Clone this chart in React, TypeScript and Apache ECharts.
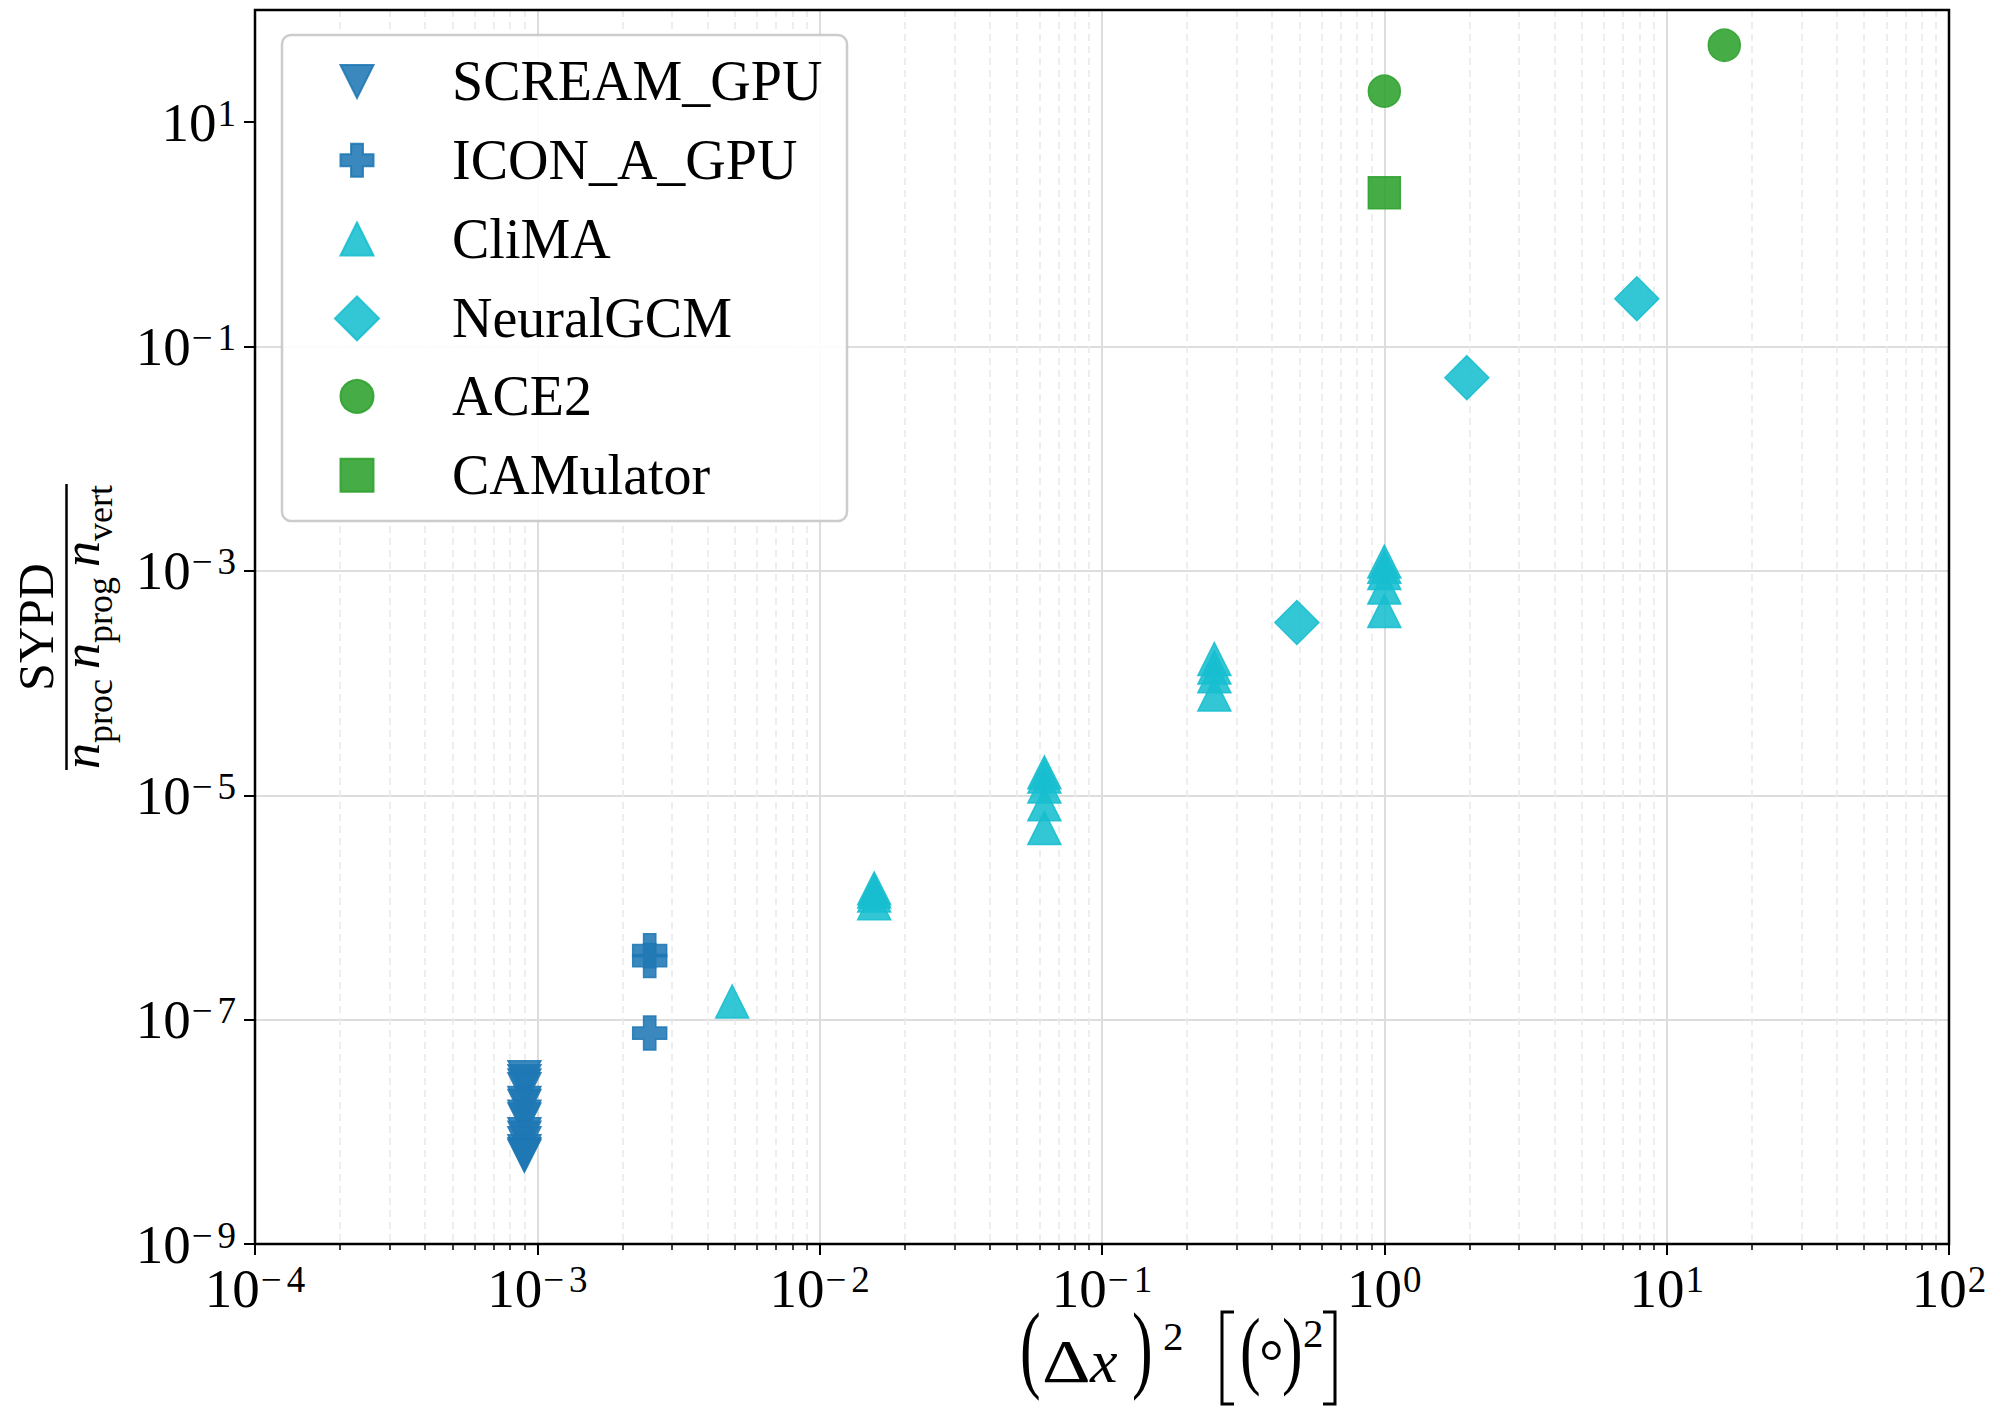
import React, { useEffect, useRef } from 'react';
import * as echarts from 'echarts';

const FONT = "'Liberation Serif', 'Times New Roman', serif";

// ---------- data ----------
const seriesNames = ['SCREAM_GPU', 'ICON_A_GPU', 'CliMA', 'NeuralGCM', 'ACE2', 'CAMulator'];

const screamX = [9e-4, 9e-4, 9e-4, 9e-4, 9e-4, 9e-4, 9e-4, 9e-4, 9e-4, 9e-4, 9e-4, 9e-4, 9e-4, 9e-4];
const screamY = [3.07e-8, 2.82e-8, 2.59e-8, 2.39e-8, 1.81e-8, 1.7e-8, 1.36e-8, 1.29e-8, 9.5e-9, 8.85e-9, 7.9e-9, 6.7e-9, 6.3e-9, 6.1e-9];

const iconX = [2.5e-3, 2.5e-3, 2.5e-3];
const iconY = [4.12e-7, 3.36e-7, 7.6e-8];

const climaX = [4.9e-3, 0.0156, 0.0156, 0.0156, 0.0156, 0.0625, 0.0625, 0.0625, 0.0625, 0.0625, 0.25, 0.25, 0.25, 0.25, 1, 1, 1, 1, 1];
const climaY = [1.45e-7, 1.48e-6, 1.39e-6, 1.28e-6, 1.09e-6, 1.6e-5, 1.47e-5, 1.2e-5, 8.3e-6, 5.1e-6, 1.64e-4, 1.38e-4, 1.15e-4, 7.9e-5, 1.21e-3, 1.09e-3, 9.6e-4, 7.1e-4, 4.4e-4];

const neuralX = [0.49, 1.96, 7.84];
const neuralY = [3.47e-4, 0.0528, 0.267];

const ace2X = [1, 16];
const ace2Y = [18.9, 48.5];

const camX = [1];
const camY = [2.35];

const xTickValues = [1e-4, 1e-3, 1e-2, 1e-1, 1e0, 1e1, 1e2];
const yTickValues = [1e-9, 1e-7, 1e-5, 1e-3, 1e-1, 1e1];
const xMinorMultipliers = [2, 3, 4, 5, 6, 7, 8, 9];

// ---------- styling ----------
const BLUE = '#1f77b4';
const CYAN = '#17becf';
const GREEN = '#2ca02c';

const DOWN_TRI = 'path://M0,0L10,0L5,10Z';
const PLUS = 'path://M3.2,0H6.8V3.2H10V6.8H6.8V10H3.2V6.8H0V3.2H3.2Z';

const GRID = { left: 255, top: 10, width: 1694, height: 1234 };

function supLabel(v: number): string {
  const e = Math.round(Math.log10(v));
  if (e < 0) return '{b|10}{m|\u2212}{s|' + String(-e) + '}';
  return '{b|10}{s|' + String(e) + '}';
}

const tickRich = {
  b: { fontFamily: FONT, fontSize: 55, lineHeight: 55, color: '#000' },
  m: { fontFamily: FONT, fontSize: 37, lineHeight: 37, color: '#000', verticalAlign: 'top', padding: [0, 4, 0, 1] },
  s: { fontFamily: FONT, fontSize: 37, lineHeight: 37, color: '#000', verticalAlign: 'top', padding: [0, 0, 0, 1] },
};

function pairs(xs: number[], ys: number[]) {
  return xs.map((x, i) => [x, ys[i]]);
}

function mk(name: string, xs: number[], ys: number[], symbol: string, size: number | number[], color: string) {
  return {
    type: 'scatter',
    name,
    data: pairs(xs, ys),
    symbol,
    symbolSize: size,
    symbolKeepAspect: true,
    itemStyle: { color, opacity: 0.88, borderColor: color, borderWidth: 1.5 },
    emphasis: { disabled: true },
  };
}

const legendText = (padLeft: number) => ({ fontFamily: FONT, fontSize: 56, lineHeight: 60, color: '#000', padding: [0, 0, 0, padLeft] });

export default function App() {
  const ref = useRef<HTMLDivElement>(null);

  useEffect(() => {
    if (!ref.current) return;
    const chart = echarts.init(ref.current, undefined, { renderer: 'svg' });

    const xMinor: number[] = [];
    for (let d = -4; d < 2; d++) {
      for (const m of xMinorMultipliers) xMinor.push(m * Math.pow(10, d));
    }

    const paren = (ch: string, x: number, y: number, sy: number) => ({
      type: 'text', x, y, scaleY: sy, silent: true,
      style: { text: ch, fontFamily: FONT, fontSize: 62, fill: '#000', align: 'left', verticalAlign: 'middle' },
    });

    const legendBase = { orient: 'vertical', padding: 0, itemGap: 18.8, selectedMode: false, backgroundColor: 'transparent', borderWidth: 0, z: 6 };

    const option: any = {
      animation: false,
      backgroundColor: '#ffffff',
      grid: { left: GRID.left, top: GRID.top, width: GRID.width, height: GRID.height, containLabel: false, outerBoundsMode: 'none' },
      xAxis: [
        {
          type: 'log', logBase: 10, min: 1e-4, max: 1e2, position: 'bottom',
          axisLine: { show: false },
          axisTick: { show: true, customValues: xTickValues, length: 11, lineStyle: { color: '#000', width: 2 } },
          axisLabel: { customValues: xTickValues, margin: 17, formatter: (v: number) => supLabel(v), rich: tickRich, fontFamily: FONT, color: '#000', showMinLabel: true, showMaxLabel: true, hideOverlap: false },
          splitLine: { show: true, showMinLine: false, showMaxLine: false, lineStyle: { color: '#dddddd', width: 2 } },
          minorTick: { show: false },
        },
        {
          type: 'log', logBase: 10, min: 1e-4, max: 1e2, position: 'bottom',
          axisLine: { show: false },
          axisTick: { show: true, customValues: xMinor, length: 6, lineStyle: { color: '#000', width: 1.5 } },
          axisLabel: { show: false },
          splitLine: { show: true, lineStyle: { color: '#e9e9e9', width: 1.5, type: [7, 5] } },
        },
      ],
      yAxis: {
        type: 'log', logBase: 10, min: 1e-9, max: 1e2,
        axisLine: { show: false },
        axisTick: { show: true, customValues: yTickValues, length: 11, lineStyle: { color: '#000', width: 2 } },
        axisLabel: { customValues: yTickValues, margin: 19, formatter: (v: number) => supLabel(v), rich: tickRich, fontFamily: FONT, color: '#000', hideOverlap: false },
        splitLine: { show: true, showMinLine: false, showMaxLine: false, lineStyle: { color: '#dddddd', width: 2 } },
      },
      legend: [
        { ...legendBase, left: 339.5, top: 51.4, itemWidth: 33, itemHeight: 33, data: seriesNames.slice(0, 3), textStyle: legendText(73.5) },
        { ...legendBase, left: 334, top: 288.4, itemWidth: 44, itemHeight: 44, data: seriesNames.slice(3, 4), textStyle: legendText(68) },
        { ...legendBase, left: 339.5, top: 366.4, itemWidth: 33, itemHeight: 33, data: seriesNames.slice(4, 6), textStyle: legendText(73.5) },
      ],
      series: [
        mk(seriesNames[0], screamX, screamY, DOWN_TRI, 33, BLUE),
        mk(seriesNames[1], iconX, iconY, PLUS, 34, BLUE),
        mk(seriesNames[2], climaX, climaY, 'triangle', 33, CYAN),
        mk(seriesNames[3], neuralX, neuralY, 'diamond', 44, CYAN),
        mk(seriesNames[4], ace2X, ace2Y, 'circle', 32, GREEN),
        mk(seriesNames[5], camX, camY, 'rect', 32, GREEN),
      ],
      graphic: [
        {
          type: 'rect', silent: true, z: 50,
          shape: { x: GRID.left, y: GRID.top, width: GRID.width, height: GRID.height },
          style: { fill: 'none', stroke: '#000', lineWidth: 2.5 },
        },
        // legend frame
        {
          type: 'rect', silent: true, z: 3,
          shape: { x: 282, y: 35, width: 565, height: 486, r: 9 },
          style: { fill: 'rgba(255,255,255,0.9)', stroke: '#cccccc', lineWidth: 2.5 },
        },
        // y axis title (fraction)
        {
          type: 'group', x: 66.5, y: 627, rotation: Math.PI / 2, silent: true,
          children: [
            { type: 'text', x: 0, y: -30.5, style: { text: 'SYPD', fontFamily: FONT, fontSize: 50, fill: '#000', align: 'center', verticalAlign: 'middle' } },
            { type: 'line', shape: { x1: -143, y1: 0, x2: 143, y2: 0 }, style: { stroke: '#000', lineWidth: 2.5 } },
            {
              type: 'text', x: 0, y: -11,
              style: {
                text: '{n|n}{s|proc}{g|}{n|n}{s|prog}{g|}{n|n}{s|vert}',
                align: 'center', verticalAlign: 'top', fill: '#000',
                rich: {
                  n: { fontFamily: FONT, fontSize: 52, fontStyle: 'italic', lineHeight: 52, verticalAlign: 'top', color: '#000' },
                  s: { fontFamily: FONT, fontSize: 36, lineHeight: 36, padding: [26, 0, 0, 0], verticalAlign: 'top', color: '#000' },
                  g: { width: 10 },
                },
              },
            },
          ],
        },
        // x axis title: (Δx)^2 [(°)^2]
        {
          type: 'group', x: 0, y: 0, silent: true,
          children: [
            paren('(', 1020, 1347.6, 1.57),
            { type: 'text', x: 1042, y: 1361, scaleX: 1.22, style: { text: 'Δ', fontFamily: FONT, fontSize: 62, fill: '#000', align: 'left', verticalAlign: 'middle' } },
            { type: 'text', x: 1090, y: 1361, style: { text: 'x', fontFamily: FONT, fontSize: 62, fontStyle: 'italic', fill: '#000', align: 'left', verticalAlign: 'middle' } },
            paren(')', 1132, 1347.6, 1.57),
            { type: 'text', x: 1163, y: 1336, style: { text: '2', fontFamily: FONT, fontSize: 41, fill: '#000', align: 'left', verticalAlign: 'middle' } },
            {
              type: 'polyline', silent: true,
              shape: { points: [[1234, 1312], [1222, 1312], [1222, 1404], [1234, 1404]] },
              style: { stroke: '#000', lineWidth: 3, fill: 'none' },
            },
            paren('(', 1240, 1348.5, 1.39),
            { type: 'text', x: 1259, y: 1361, style: { text: '°', fontFamily: FONT, fontSize: 62, fill: '#000', align: 'left', verticalAlign: 'middle' } },
            paren(')', 1282, 1348.5, 1.39),
            { type: 'text', x: 1303, y: 1333, style: { text: '2', fontFamily: FONT, fontSize: 41, fill: '#000', align: 'left', verticalAlign: 'middle' } },
            {
              type: 'polyline', silent: true,
              shape: { points: [[1323, 1312], [1335, 1312], [1335, 1404], [1323, 1404]] },
              style: { stroke: '#000', lineWidth: 3, fill: 'none' },
            },
          ],
        },
      ],
    };

    chart.setOption(option);
    return () => chart.dispose();
  }, []);

  return <div ref={ref} style={{ position: 'absolute', left: 0, top: 0, width: 1997, height: 1408 }} />;
}
